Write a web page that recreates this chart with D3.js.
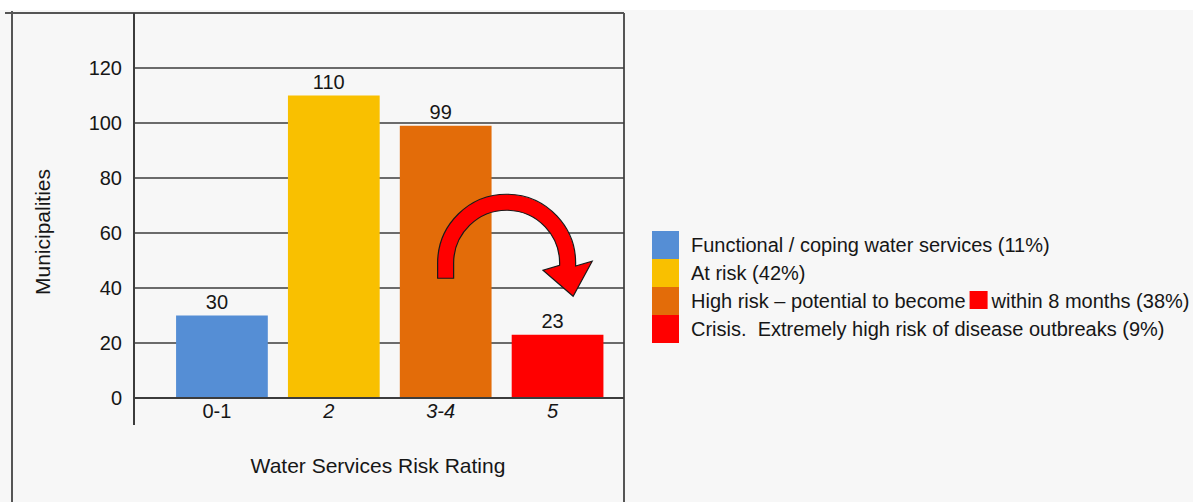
<!DOCTYPE html>
<html>
<head>
<meta charset="utf-8">
<script src="https://cdn.jsdelivr.net/npm/d3@7"></script>
<style>
  html, body { margin: 0; padding: 0; background: #f7f7f7; }
  svg { display: block; }
  text { font-family: "Liberation Sans", Arial, sans-serif; fill: #161616; white-space: pre; }
</style>
</head>
<body>
<svg id="chart" width="1193" height="502"></svg>
<script>
// ---- data ----
const categories = ["0-1", "2", "3-4", "5"];
const values = [30, 110, 99, 23];
const italicTicks = [false, true, true, true];
const colors = ["#558ED5", "#F9C000", "#E36C09", "#FF0000"];
const yTicks = [0, 20, 40, 60, 80, 100, 120];
const legendLabels = [
  "Functional / coping water services (11%)",
  "At risk (42%)",
  ["High risk \u2013 potential to become", "within 8 months (38%)"],
  "Crisis.  Extremely high risk of disease outbreaks (9%)"
];
const yTitle = "Municipalities";
const xTitle = "Water Services Risk Rating";

// ---- layout ----
const W = 1193, H = 502;
const plot = { left: 134, right: 624, top: 13, zero: 398 };
const svg = d3.select("#chart");

svg.append("rect").attr("width", W).attr("height", H).attr("fill", "#f7f7f7");
svg.append("rect").attr("width", W).attr("height", 10).attr("fill", "#ffffff");

const y = d3.scaleLinear().domain([0, 140]).range([plot.zero, plot.top]);
const x = d3.scaleBand().domain(categories).range([166, 613.5])
  .paddingInner(0.18).paddingOuter(0.09);
const xc = c => x(c) + x.bandwidth() / 2;

// outer frame
const frame = svg.append("g").attr("stroke", "#555").attr("stroke-width", 2).attr("fill", "none");
frame.append("line").attr("x1", 5).attr("x2", plot.right).attr("y1", plot.top).attr("y2", plot.top);
frame.append("line").attr("x1", 12).attr("x2", 12).attr("y1", plot.top - 2).attr("y2", H);
frame.append("line").attr("x1", plot.right).attr("x2", plot.right).attr("y1", plot.top).attr("y2", H);

// gridlines
svg.append("g").selectAll("line").data(yTicks).join("line")
  .attr("x1", plot.left).attr("x2", plot.right)
  .attr("y1", d => y(d)).attr("y2", d => y(d))
  .attr("stroke", "#3c3c3c").attr("stroke-width", 1.6);

// y axis line
svg.append("line").attr("x1", plot.left).attr("x2", plot.left)
  .attr("y1", plot.top).attr("y2", 425)
  .attr("stroke", "#3c3c3c").attr("stroke-width", 2);

// y tick labels via axis
const yAxis = svg.append("g").attr("transform", `translate(${plot.left},0)`)
  .call(d3.axisLeft(y).tickValues(yTicks).tickSize(0).tickPadding(12));
yAxis.select(".domain").remove();
yAxis.selectAll("text").style("font-size", "20px").style("font-family", "'Liberation Sans', Arial, sans-serif")
  .attr("fill", "#161616");

// bars
svg.append("g").selectAll("rect").data(values).join("rect")
  .attr("x", (d, i) => x(categories[i]))
  .attr("width", x.bandwidth())
  .attr("y", d => y(d))
  .attr("height", d => y(0) - y(d))
  .attr("fill", (d, i) => colors[i]);

// redraw zero line on top of bars
svg.append("line").attr("x1", plot.left).attr("x2", plot.right)
  .attr("y1", y(0)).attr("y2", y(0)).attr("stroke", "#3c3c3c").attr("stroke-width", 2);

// value labels
svg.append("g").selectAll("text").data(values).join("text")
  .attr("x", (d, i) => xc(categories[i]) - 5)
  .attr("y", d => y(d) - 7)
  .attr("text-anchor", "middle")
  .style("font-size", "20px")
  .text(d => d);

// x tick labels
svg.append("g").selectAll("text").data(categories).join("text")
  .attr("x", d => xc(d) - 5)
  .attr("y", y(0) + 20)
  .attr("text-anchor", "middle")
  .style("font-size", "20px")
  .style("font-style", (d, i) => italicTicks[i] ? "italic" : "normal")
  .text(d => d);

// axis titles
svg.append("text").attr("x", 378).attr("y", 473).attr("text-anchor", "middle")
  .style("font-size", "21px").text(xTitle);
svg.append("text").attr("transform", "translate(50,232) rotate(-90)")
  .attr("text-anchor", "middle").style("font-size", "21px").text(yTitle);

// curved arrow from "3-4" to "5"
(function () {
  const cx = (xc("3-4") + xc("5")) / 2 + 5;
  const cy = y(49);
  const rO = 69, rI = 53, rM = (rO + rI) / 2;
  const foot = 15;
  const te = 2 * Math.PI + 0.04;
  const phi = -0.18;
  const bx = cx + rM * Math.cos(te), by = cy + rM * Math.sin(te);
  const ux = Math.cos(phi), uy = Math.sin(phi);
  const nx = -Math.sin(phi), ny = Math.cos(phi);
  const half = 25, len = 31;
  const p = d3.path();
  p.moveTo(cx - rO, cy + foot);
  p.lineTo(cx - rO, cy);
  p.arc(cx, cy, rO, Math.PI, te, false);
  p.lineTo(bx + half * ux, by + half * uy);
  p.lineTo(bx + len * nx, by + len * ny);
  p.lineTo(bx - half * ux, by - half * uy);
  p.lineTo(cx + rI * Math.cos(te), cy + rI * Math.sin(te));
  p.arc(cx, cy, rI, te, Math.PI, true);
  p.lineTo(cx - rI, cy + foot);
  p.closePath();
  svg.append("path").attr("d", p.toString())
    .attr("fill", "#FF0000").attr("stroke", "#1a1a1a").attr("stroke-width", 1.2)
    .attr("stroke-linejoin", "miter");
})();

// legend
const lg = { x: 652, top: 231, sw: 27, row: 28, textX: 691 };
const legend = svg.append("g");
legend.selectAll("rect").data(colors).join("rect")
  .attr("x", lg.x).attr("y", (d, i) => lg.top + i * lg.row)
  .attr("width", lg.sw).attr("height", lg.row)
  .attr("fill", d => d);
legendLabels.forEach((lab, i) => {
  const ty = lg.top + i * lg.row + lg.row / 2 + 7;
  if (Array.isArray(lab)) {
    const t1 = legend.append("text").attr("x", lg.textX).attr("y", ty)
      .style("font-size", "20px").text(lab[0]);
    const w1 = t1.node().getComputedTextLength();
    const sx = lg.textX + w1 + 4;
    legend.append("rect").attr("x", sx).attr("y", ty - 17).attr("width", 18).attr("height", 18)
      .attr("fill", colors[3]);
    legend.append("text").attr("x", sx + 22).attr("y", ty)
      .style("font-size", "20px").text(lab[1]);
  } else {
    legend.append("text").attr("x", lg.textX).attr("y", ty)
      .style("font-size", "20px").text(lab);
  }
});
</script>
</body>
</html>
